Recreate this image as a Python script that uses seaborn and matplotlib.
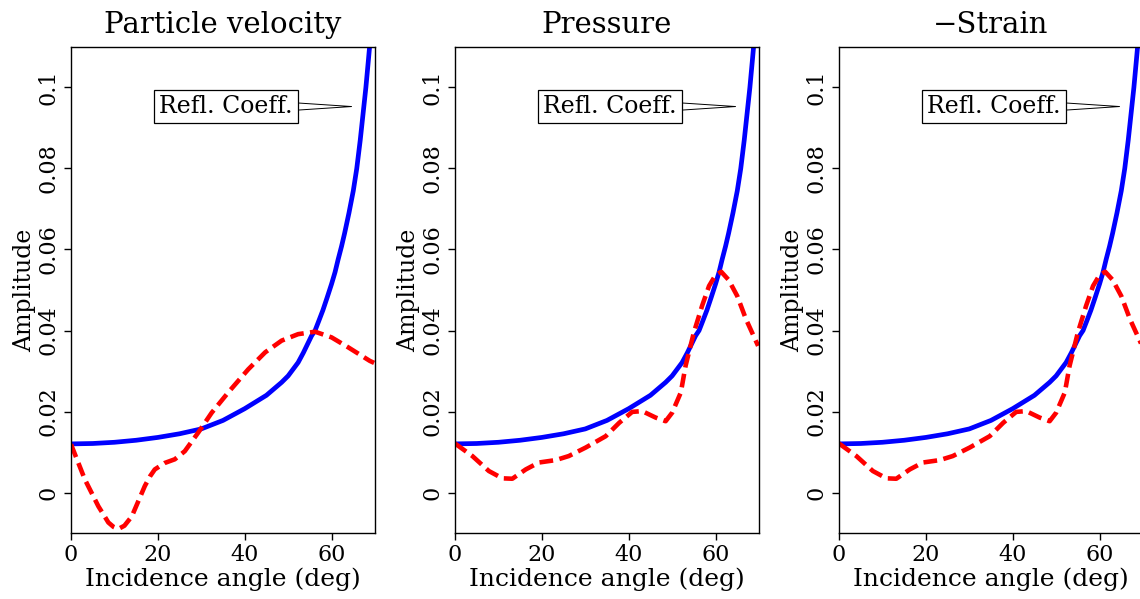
import matplotlib
matplotlib.use("Agg")
import matplotlib.pyplot as plt
import seaborn as sns
import pandas as pd

# ---- data ----
titles = ["Particle velocity", "Pressure", "\u2212Strain"]

refl_angle = [0, 5, 10, 15, 20, 25, 30, 35, 40, 45, 48.5, 50, 52.3, 53.5, 55.4,
              56.2, 57, 58, 59, 60, 60.8, 61.5, 62.3, 63, 64, 65, 65.8, 66.6,
              67.3, 67.9, 68.5, 69.0, 69.5]
refl_coeff = [0.0120, 0.0121, 0.0124, 0.0129, 0.0136, 0.0145, 0.0157, 0.0178,
              0.0207, 0.0240, 0.0272, 0.0288, 0.0321, 0.0345, 0.0387,
              0.0400, 0.0422, 0.0450, 0.0482, 0.0515, 0.0544, 0.0575, 0.0608,
              0.0640, 0.0690, 0.0745, 0.0800, 0.0870, 0.0940, 0.1000, 0.1070,
              0.1130, 0.1190]

vel_angle = [0, 3.2, 6.3, 8.6, 9.8, 10.9, 12.3, 14.0, 17.0, 18.2, 19.3, 21.6,
             23.9, 26.2, 29.3, 32.4, 36.2, 40.8, 44.7, 48.5, 52.3, 56.2, 60.0,
             63.9, 68.8, 69.8]
vel_amp = [0.0119, 0.0032, -0.0034, -0.0074, -0.0085, -0.0090, -0.0082,
           -0.0059, 0.0016, 0.0040, 0.0057, 0.0073, 0.0082, 0.0102, 0.0148,
           0.0197, 0.0247, 0.0304, 0.0346, 0.0375, 0.0391, 0.0397, 0.0383,
           0.0358, 0.0325, 0.0320]

prs_angle = [0, 4.0, 7.8, 10.9, 13.2, 16.3, 19.3, 23.2, 26.2, 30.1, 34.7, 37.8,
             40.8, 43.1, 46.2, 48.5, 50.0, 52.0, 53.1, 55.0, 56.9, 58.5, 60.0,
             61.3, 63.0, 65.0, 67.0, 69.8]
prs_amp = [0.0121, 0.0090, 0.0053, 0.0035, 0.0034, 0.0057, 0.0074, 0.0080,
           0.0090, 0.0111, 0.0139, 0.0172, 0.0199, 0.0201, 0.0185, 0.0176,
           0.0197, 0.0247, 0.0313, 0.0395, 0.0461, 0.0510, 0.0537, 0.0545,
           0.0525, 0.0485, 0.0428, 0.0362]

series_angle = [vel_angle, prs_angle, prs_angle]
series_amp = [vel_amp, prs_amp, prs_amp]

xticks = [0, 20, 40, 60]
yticks = [0, 0.02, 0.04, 0.06, 0.08, 0.1]
ytick_labels = ["0", "0.02", "0.04", "0.06", "0.08", "0.1"]

# ---- style ----
sns.set_style("ticks")
plt.rcParams["font.family"] = ["DejaVu Serif"]
for k in ["text.color", "axes.labelcolor", "xtick.color", "ytick.color",
          "axes.edgecolor"]:
    plt.rcParams[k] = "black"
plt.rcParams["axes.linewidth"] = 1.0

W, H = 1140, 599
fig = plt.figure(figsize=(W / 100, H / 100), dpi=100)

lefts = [71, 455, 839]
ax_w, ax_top, ax_bot = 304, 47, 533

refl_df = pd.DataFrame({"angle": refl_angle, "amp": refl_coeff})

for i in range(3):
    ax = fig.add_axes([lefts[i] / W, (H - ax_bot) / H, ax_w / W, (ax_bot - ax_top) / H])
    sns.lineplot(data=refl_df, x="angle", y="amp", ax=ax, color="#0000ff",
                 lw=3.4, sort=False, estimator=None)
    df = pd.DataFrame({"angle": series_angle[i], "amp": series_amp[i]})
    sns.lineplot(data=df, x="angle", y="amp", ax=ax, color="#ff0000", lw=3.3,
                 sort=False, estimator=None, linestyle=(0, (3.0, 1.4)))
    ax.set_xlim(0, 70)
    ax.set_ylim(-0.01, 0.11)
    ax.set_xticks(xticks)
    ax.set_xticklabels([str(t) for t in xticks])
    ax.set_yticks(yticks)
    ax.set_yticklabels(ytick_labels, rotation=90, va="center")
    ax.tick_params(axis="both", direction="out", length=5, width=1, labelsize=16,
                   colors="black", pad=3)
    for s in ax.spines.values():
        s.set_visible(True)
        s.set_color("black")
    ax.set_xlabel("Incidence angle (deg)", fontsize=18, labelpad=1)
    ax.set_ylabel("Amplitude", fontsize=17, labelpad=1)
    ax.set_title(titles[i], fontsize=21, pad=10)
    ax.annotate("Refl. Coeff.", xy=(64.6, 0.0953), xytext=(35.6, 0.0953),
                fontsize=17, ha="center", va="center",
                bbox=dict(boxstyle="square,pad=0.22", fc="white", ec="black", lw=0.9),
                arrowprops=dict(arrowstyle="wedge,tail_width=0.3", fc="white",
                                ec="black", lw=0.7, shrinkA=0, shrinkB=0))

fig.savefig("out.png", dpi=100)
